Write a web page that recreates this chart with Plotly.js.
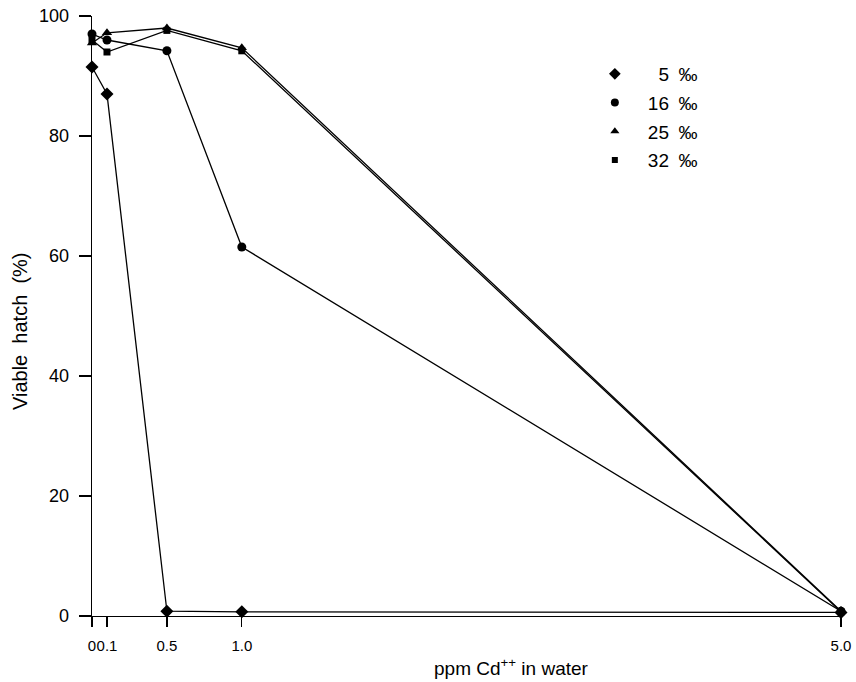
<!DOCTYPE html>
<html>
<head>
<meta charset="utf-8">
<script src="https://cdn.plot.ly/plotly-3.0.1.min.js"></script>
<style>html,body{margin:0;padding:0;background:#fff;}</style>
</head>
<body>
<div id="chart" style="width:856px;height:682px;"></div>
<script>
// Cd++ concentration (ppm)
const conc = [0, 0.1, 0.5, 1.0, 5.0];
// Viable hatch (%) by salinity
const s5  = [91.5, 87.0, 0.8, 0.7, 0.6];
const s16 = [97.0, 96.0, 94.2, 61.5, 0.8];
const s25 = [95.5, 97.2, 98.0, 94.7, 0.8];
const s32 = [96.0, 94.0, 97.6, 94.2, 0.7];
const seriesNames = ["\u20075\u2002\u2030", "16\u2002\u2030", "25\u2002\u2030", "32\u2002\u2030"];
const xTickVals = [0, 0.1, 0.5, 1.0, 5.0];
const xTickText = ["0", "0.1", "0.5", "1.0", "5.0"];
const yTickVals = [0, 20, 40, 60, 80, 100];

const seriesY = [s5, s16, s25, s32];
const symbols = ["diamond", "circle", "triangle-up", "square"];
const sizes = [10, 9, 9, 7];

const traces = [];
seriesY.forEach((ys, i) => {
  traces.push({
    x: conc, y: ys, type: "scatter", mode: "lines+markers",
    line: {color: "#000", width: 1.3},
    marker: {symbol: symbols[i], size: sizes[i], color: "#000"},
    showlegend: false, cliponaxis: false, hoverinfo: "skip"
  });
});
seriesY.forEach((ys, i) => {
  traces.push({
    x: [null], y: [null], type: "scatter", mode: "markers",
    name: seriesNames[i], legendgroup: "g" + i,
    marker: {symbol: symbols[i], size: sizes[i] - 1, color: "#000"},
    showlegend: true
  });
});

const font = "Liberation Sans, Arial, sans-serif";
const layout = {
  width: 856, height: 682,
  margin: {l: 92, r: 15, t: 16, b: 66},
  paper_bgcolor: "#fff", plot_bgcolor: "#fff",
  font: {family: font, color: "#000", size: 16},
  showlegend: true,
  legend: {
    x: 0.654, y: 0.935, xanchor: "left", yanchor: "top",
    font: {family: font, size: 19, color: "#000"},
    bgcolor: "rgba(0,0,0,0)", itemwidth: 56,
    traceorder: "grouped", tracegroupgap: 1
  },
  xaxis: {
    range: [0, 5.0], tickmode: "array", tickvals: xTickVals, ticktext: xTickText,
    showline: true, linecolor: "#000", linewidth: 1.3,
    ticks: "outside", ticklen: 10, tickwidth: 1.2, tickcolor: "#000",
    showgrid: false, zeroline: false, tickangle: 0,
    tickfont: {family: font, size: 15}, ticklabelstandoff: 6
  },
  yaxis: {
    range: [0, 100], tickmode: "array", tickvals: yTickVals,
    showline: true, linecolor: "#000", linewidth: 1.3,
    ticks: "outside", ticklen: 12, tickwidth: 1.2, tickcolor: "#000",
    showgrid: false, zeroline: false,
    tickfont: {family: font, size: 18}, ticklabelstandoff: 6
  },
  annotations: [
    {text: "ppm Cd<sup>++</sup> in water", xref: "paper", yref: "paper",
     x: 0.56, y: 0, xanchor: "center", yanchor: "top", yshift: -37,
     showarrow: false, font: {family: font, size: 19}},
    {text: "Viable&nbsp;&nbsp;hatch&nbsp;&nbsp;(%)", xref: "paper", yref: "paper",
     x: 0, y: 0.5, xanchor: "center", yanchor: "middle", xshift: -72, yshift: -15,
     textangle: -90, showarrow: false, font: {family: font, size: 20}}
  ]
};

Plotly.newPlot("chart", traces, layout, {displayModeBar: false, staticPlot: true});
</script>
</body>
</html>
